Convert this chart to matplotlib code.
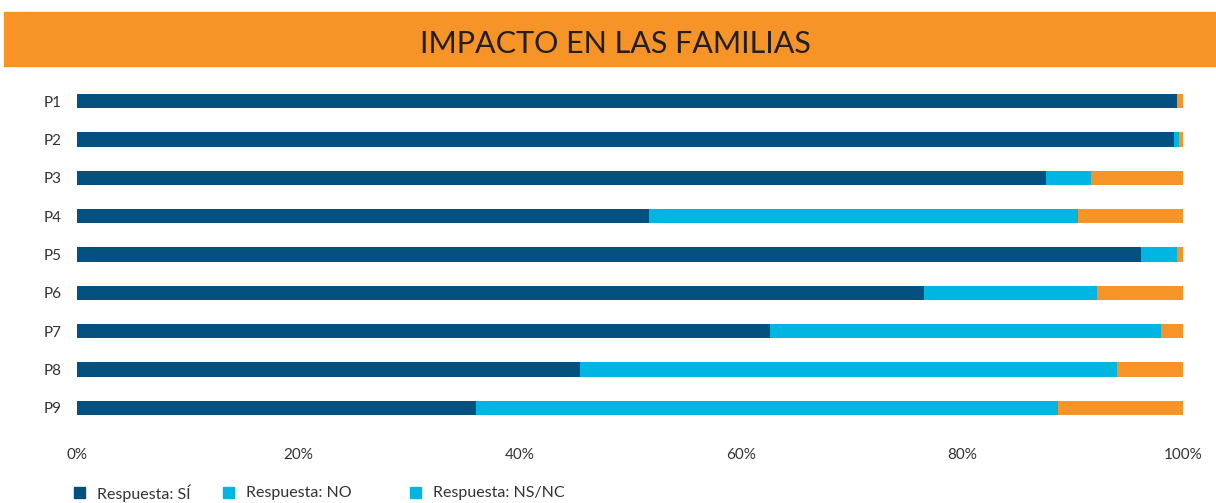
import matplotlib.pyplot as plt
from matplotlib.patches import Rectangle

# data (percent of answers)
preguntas = ["P1", "P2", "P3", "P4", "P5", "P6", "P7", "P8", "P9"]
si = [99.5, 99.2, 87.6, 51.7, 96.2, 76.6, 62.7, 45.5, 36.1]
no = [0.0, 0.4, 4.1, 38.8, 3.3, 15.6, 35.3, 48.5, 52.6]
nsnc = [0.5, 0.4, 8.3, 9.5, 0.5, 7.8, 2.0, 6.0, 11.3]
xticks = [0, 20, 40, 60, 80, 100]
leyenda = ["Respuesta: SÍ", "Respuesta: NO", "Respuesta: NS/NC"]

AZUL = "#04517f"
CIAN = "#00b5e2"
NARANJA = "#f79428"

plt.rcParams["font.family"] = ["Lato", "DejaVu Sans"]

W, H = 1216, 503
fig = plt.figure(figsize=(W / 100, H / 100), dpi=100)

# orange header band
fig.patches.append(Rectangle((4 / W, 1 - 66 / H), 1 - 4 / W, 54 / H,
                             transform=fig.transFigure, color=NARANJA, zorder=0))
fig.text(0.506, 1 - 44 / H, "IMPACTO EN LAS FAMILIAS", ha="center", va="center",
         fontsize=22, color="#231f20")

ax = fig.add_axes([77 / W, 1 - 427 / H, (1183 - 77) / W, 345 / H])
y = list(range(len(preguntas)))
h = 0.37
ax.barh(y, si, height=h, color=AZUL)
ax.barh(y, no, left=si, height=h, color=CIAN)
ax.barh(y, nsnc, left=[a + b for a, b in zip(si, no)], height=h, color=NARANJA)

ax.set_xlim(0, 100)
ax.set_ylim(len(preguntas) - 0.5, -0.5)
ax.set_yticks(y)
ax.set_yticklabels(preguntas)
ax.set_xticks(xticks)
ax.set_xticklabels([f"{t}%" for t in xticks])
ax.tick_params(axis="both", length=0, labelsize=11, labelcolor="#333333")
ax.tick_params(axis="y", pad=11)
ax.tick_params(axis="x", pad=15)
for s in ax.spines.values():
    s.set_visible(False)

# legend drawn by hand (the original has uneven column widths)
# note: the original shows the NS/NC swatch in cyan, kept as is
colores_ley = [AZUL, CIAN, CIAN]
xs_ley = [74, 223, 410]
for x0, c, lab in zip(xs_ley, colores_ley, leyenda):
    fig.patches.append(Rectangle((x0 / W, 1 - 498 / H), 11 / W, 11 / H,
                                 transform=fig.transFigure, color=c))
    fig.text((x0 + 23) / W, 1 - 493 / H, lab, ha="left", va="center",
             fontsize=11.5, color="#333333")

fig.savefig("out.png", dpi=100)
